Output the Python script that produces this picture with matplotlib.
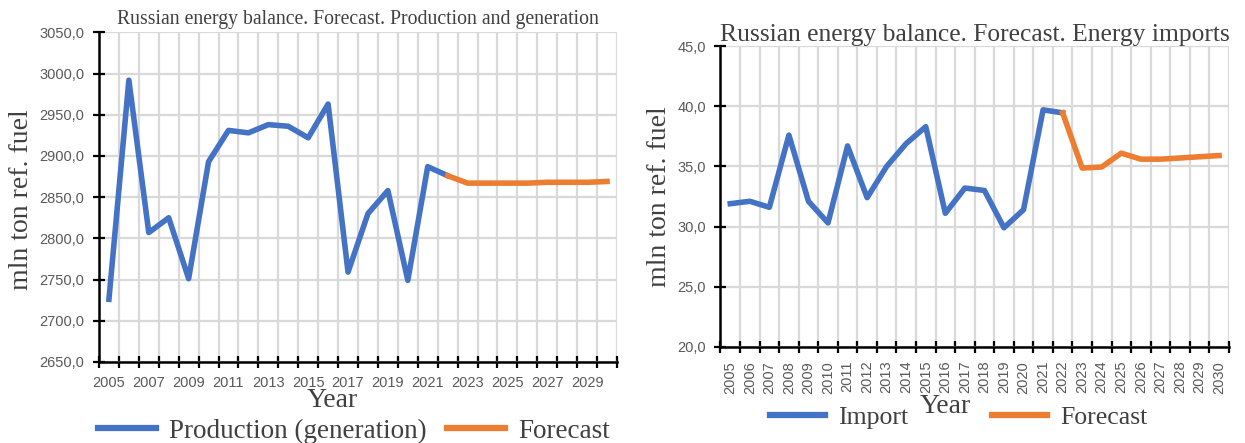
import matplotlib
matplotlib.use("Agg")
import matplotlib.pyplot as plt
from matplotlib.ticker import FixedLocator, FuncFormatter, NullFormatter
from matplotlib.lines import Line2D

years = list(range(2005, 2031))

production = [2726, 2992, 2807, 2825, 2751, 2893, 2931, 2928, 2938, 2936,
              2922, 2963, 2759, 2830, 2858, 2749, 2887, 2876]
production_forecast = [2876, 2867, 2867, 2867, 2867, 2868, 2868, 2868, 2869]

imports = [31.9, 32.1, 31.6, 37.6, 32.1, 30.3, 36.7, 32.4, 35.0, 36.9,
           38.3, 31.1, 33.2, 33.0, 29.9, 31.4, 39.7, 39.45]
imports_forecast = [39.45, 34.86, 34.95, 36.1, 35.6, 35.6, 35.7, 35.8, 35.9]

left_yticks = [2650, 2700, 2750, 2800, 2850, 2900, 2950, 3000, 3050]
right_yticks = [20, 25, 30, 35, 40, 45]

blue = "#4472C4"
orange = "#ED7D31"
grid_c = "#D9D9D9"
tick_c = "#595959"
text_c = "#404040"
serif = "Liberation Serif"
sans = "Liberation Sans"

fig = plt.figure(figsize=(12.45, 4.43), dpi=100)
ax1 = fig.add_axes([0.0795, 0.183, 0.4161, 0.744])
ax2 = fig.add_axes([0.5787, 0.217, 0.4083, 0.679])

n_hist = len(production)


def style_axis(ax, yticks, label_step, rotation, xpad):
    n = len(years)
    ax.set_xlim(-0.5, n - 0.5)
    ax.set_ylim(yticks[0], yticks[-1])
    ax.set_yticks(yticks)
    ax.yaxis.set_major_formatter(FuncFormatter(lambda v, p: ("%.1f" % v).replace(".", ",")))
    # category borders get the tick marks and the grid, labels sit in between
    ax.xaxis.set_major_locator(FixedLocator([i - 0.5 for i in range(n + 1)]))
    ax.xaxis.set_major_formatter(NullFormatter())
    ax.xaxis.set_minor_locator(FixedLocator(list(range(0, n, label_step))))
    ax.set_xticklabels([str(years[i]) for i in range(0, n, label_step)], minor=True,
                       rotation=rotation, fontsize=10.5, color=tick_c, family=sans)
    ax.tick_params(axis="x", which="minor", length=0, pad=xpad)
    ax.tick_params(axis="both", which="major", direction="inout", length=9, width=1.6,
                   color="black", labelsize=10.5, labelcolor=tick_c)
    ax.tick_params(axis="y", pad=6)
    for lab in ax.get_yticklabels():
        lab.set_family(sans)
    ax.grid(True, which="major", color=grid_c, linewidth=1.6)
    ax.set_axisbelow(True)
    for s in ["top", "right"]:
        ax.spines[s].set_visible(False)
    for s in ["left", "bottom"]:
        ax.spines[s].set_linewidth(1.8)
        ax.spines[s].set_zorder(3)


# left: production
x_hist = list(range(n_hist))
x_fc = list(range(n_hist - 1, len(years)))
ax1.plot(x_hist, production, color=blue, lw=4, zorder=4)
ax1.plot(x_fc, production_forecast, color=orange, lw=4, zorder=4)
style_axis(ax1, left_yticks, 2, 0, 10)
ax1.set_title("Russian energy balance. Forecast. Production and generation",
              family=serif, fontsize=14.2, color=text_c, pad=6)
fig.text(0.017, 0.549, "mln ton ref. fuel", rotation=90, family=serif, fontsize=20,
         color=text_c, ha="center", va="center")
fig.text(0.2667, 0.097, "Year", family=serif, fontsize=20, color=text_c,
         ha="center", va="center")
h1 = [Line2D([], [], color=blue, lw=4.5), Line2D([], [], color=orange, lw=4.5)]
fig.legend(h1, ["Production (generation)", "Forecast"], loc="center",
           bbox_to_anchor=(0.2843, 0.027), ncol=2, frameon=False, handlelength=2.14,
           handletextpad=0.5, columnspacing=0.74, borderpad=0, borderaxespad=0,
           prop={"family": serif, "size": 19.5}, labelcolor=text_c)

# right: imports
ax2.plot(x_hist, imports, color=blue, lw=4, zorder=4)
ax2.plot(x_fc, imports_forecast, color=orange, lw=4, zorder=4)
style_axis(ax2, right_yticks, 1, 90, 10)
ax2.set_title("Russian energy balance. Forecast. Energy imports",
              family=serif, fontsize=18.4, color=text_c, pad=3)
fig.text(0.530, 0.556, "mln ton ref. fuel", rotation=90, family=serif, fontsize=20,
         color=text_c, ha="center", va="center")
fig.text(0.759, 0.083, "Year", family=serif, fontsize=20, color=text_c,
         ha="center", va="center")
h2 = [Line2D([], [], color=blue, lw=4.5), Line2D([], [], color=orange, lw=4.5)]
fig.legend(h2, ["Import", "Forecast"], loc="center",
           bbox_to_anchor=(0.770, 0.058), ncol=2, frameon=False, handlelength=2.14,
           handletextpad=0.5, columnspacing=3.3, borderpad=0, borderaxespad=0,
           prop={"family": serif, "size": 18.5}, labelcolor=text_c)

fig.savefig("out.png", dpi=100)
